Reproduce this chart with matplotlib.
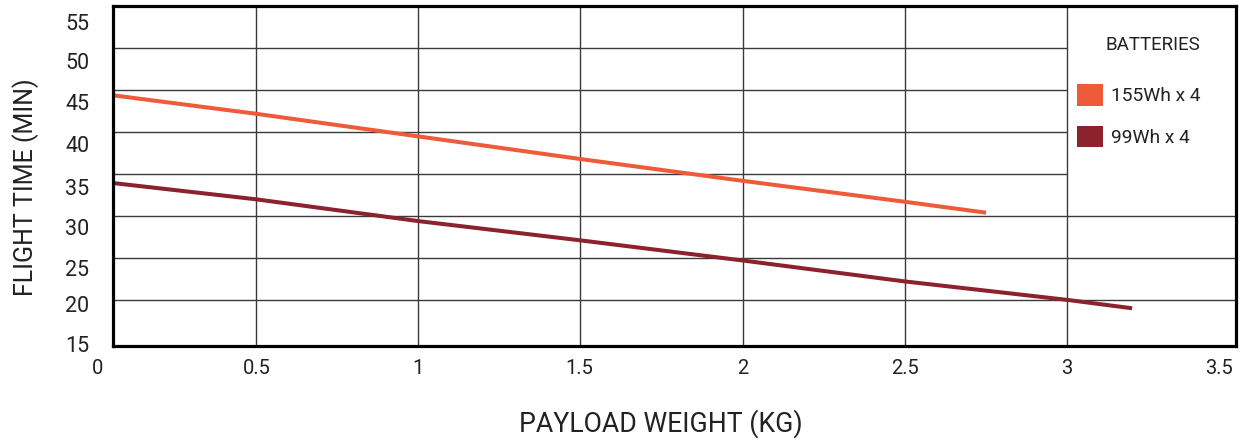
import matplotlib
matplotlib.use('Agg')
import matplotlib.pyplot as plt
from matplotlib.patches import Patch
from matplotlib.transforms import ScaledTranslation

plt.rcParams['font.family'] = ['Roboto', 'DejaVu Sans']

# payload (kg) vs flight time (min)
payload_155 = [0, 0.5, 1.0, 1.5, 2.0, 2.5, 2.75]
time_155 = [44.7, 42.2, 39.5, 36.8, 34.2, 31.7, 30.4]
payload_99 = [0, 0.5, 1.0, 1.5, 2.0, 2.5, 3.0, 3.2]
time_99 = [34.2, 32.0, 29.4, 27.1, 24.7, 22.2, 20.0, 19.0]

series_labels = ['155Wh x 4', '99Wh x 4']
series_colors = ['#ED5B3A', '#8C222C']

x_tick_labels = ['0', '0.5', '1', '1.5', '2', '2.5', '3', '3.5']
y_ticks = [15, 20, 25, 30, 35, 40, 45, 50, 55]
y_grid_full = [20, 25, 30]
y_grid_short = [35, 40, 45, 50]

xmin, xmax = 0.06, 3.52
ymin, ymax = 14.5, 55.05

fig = plt.figure(figsize=(12.43, 4.42), dpi=100)
ax = fig.add_axes([113/1243, 96/442, 1123/1243, 340/442])

ax.plot(payload_155, time_155, color=series_colors[0], lw=2.9, solid_capstyle='butt', zorder=3)
ax.plot(payload_99, time_99, color=series_colors[1], lw=2.9, solid_capstyle='butt', zorder=3)

ax.set_xlim(xmin, xmax)
ax.set_ylim(ymin, ymax)

# grid: upper horizontal lines stop where the legend panel begins
grid_kw = dict(color='#3a3a3a', lw=1.0, zorder=1)
ax.hlines(y_grid_full, xmin, xmax, **grid_kw)
ax.hlines(y_grid_short, xmin, 3.0, **grid_kw)
x_ticks = [xmin, 0.5, 1.0, 1.5, 2.0, 2.5, 3.0, xmax]
for xv in x_ticks[1:-1]:
    ax.axvline(xv, **grid_kw)

ax.set_xticks(x_ticks)
ax.set_xticklabels(x_tick_labels, fontsize=14.5, color='#222222')
ax.set_yticks(y_ticks)
ax.set_yticklabels([str(v) for v in y_ticks], fontsize=15.5, color='#222222')
ax.tick_params(axis='both', length=0)
ax.tick_params(axis='x', pad=9)
ax.tick_params(axis='y', pad=17)

# nudge labels the way the original artwork has them
x_shift = [-15, 1, 0, -1, 0, 0, 0, -17]
for lab, dx in zip(ax.get_xticklabels(), x_shift):
    lab.set_transform(lab.get_transform() + ScaledTranslation(dx/100, 0, fig.dpi_scale_trans))
y_shift = [-2, -4, -10, -11, -13, -12, -12, -13, -16]
for lab, dy in zip(ax.get_yticklabels(), y_shift):
    lab.set_transform(lab.get_transform() + ScaledTranslation(0, dy/100, fig.dpi_scale_trans))

for sp in ax.spines.values():
    sp.set_linewidth(2.3)
    sp.set_color('black')
    sp.set_zorder(4)

ax.set_xlabel('PAYLOAD WEIGHT (KG)', fontsize=19.2, color='#222222', va='center')
ax.xaxis.set_label_coords(0.4875, -0.228)
ax.set_ylabel('FLIGHT TIME (MIN)', fontsize=18, color='#222222', va='center')
ax.yaxis.set_label_coords(-0.078, 0.468)

handles = [Patch(facecolor=c, edgecolor='none') for c in series_colors]
leg = ax.legend(handles, series_labels, title='BATTERIES', loc='upper left',
                bbox_to_anchor=(0.852, 0.935), frameon=False, fontsize=13.8,
                title_fontsize=13.5, handlelength=1.35, handleheight=1.35,
                handletextpad=0.4, labelspacing=1.05, borderaxespad=0,
                alignment='right')
leg._legend_box.sep = 22
for t in leg.get_texts():
    t.set_color('#222222')
leg.get_title().set_color('#222222')

fig.savefig('out.png', dpi=100)
